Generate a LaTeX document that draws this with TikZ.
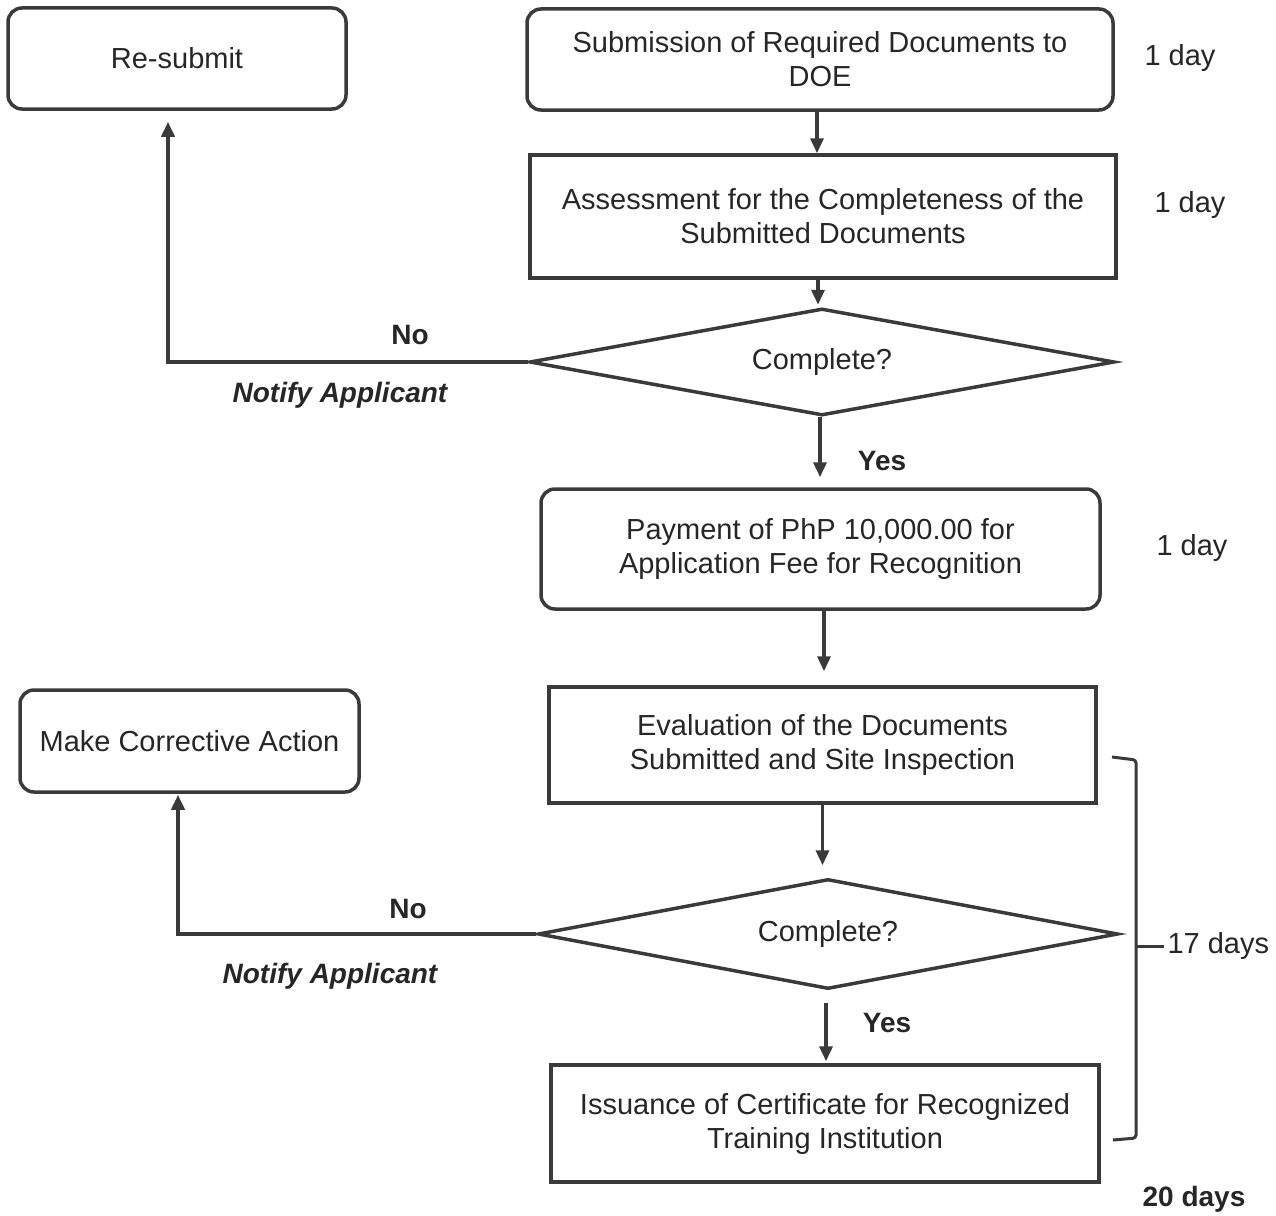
\documentclass[tikz,border=0pt]{standalone}
\usepackage{fontspec}
\setmainfont{Liberation Sans}
\usetikzlibrary{shapes.geometric,arrows.meta}
\definecolor{ink}{HTML}{3A3A3A}
\definecolor{txt}{HTML}{262626}
\begin{document}
\begin{tikzpicture}[x=1pt,y=-1pt,
 every node/.style={text=txt},
 base/.style={draw=ink, line width=3.5pt, align=center, inner sep=0pt, font=\fontsize{29}{34}\selectfont},
 rbox/.style={base, rounded corners=14pt},
 sbox/.style={base},
 dec/.style={base, shape=diamond, aspect=5.4, line width=3.5pt},
 flow/.style={draw=ink, line width=3.5pt, -{Triangle[width=13pt,length=15pt]}},
 lbl/.style={font=\fontsize{29}{34}\selectfont},
 blbl/.style={font=\fontsize{28}{34}\selectfont\bfseries},
 ilbl/.style={font=\fontsize{28}{34}\selectfont\bfseries\itshape},
]
\useasboundingbox (0,0) rectangle (1276,1215);

% nodes
\node[rbox, minimum width=338pt, minimum height=101pt] (res) at (177,58.5) {Re-submit};
\node[rbox, minimum width=586pt, minimum height=101pt] (sub) at (820,59.5) {Submission of Required Documents to\\DOE};
\node[sbox, minimum width=586pt, minimum height=123pt] (asm) at (823,216.5) {Assessment for the Completeness of the\\Submitted Documents};
\node[dec, minimum width=585pt, minimum height=107pt] (d1) at (822,362) {Complete?};
\node[rbox, minimum width=559pt, minimum height=120pt] (pay) at (820.5,549) {Payment of PhP 10,000.00 for\\Application Fee for Recognition};
\node[sbox, minimum width=547pt, minimum height=116pt] (eva) at (822.5,745) {Evaluation of the Documents\\Submitted and Site Inspection};
\node[dec, minimum width=580pt, minimum height=110pt] (d2) at (828,934) {Complete?};
\node[sbox, minimum width=548pt, minimum height=117pt] (iss) at (825,1123.5) {Issuance of Certificate for Recognized\\Training Institution};
\node[rbox, minimum width=339pt, minimum height=102pt] (cor) at (189.5,741) {Make Corrective Action};

% side labels
\node[lbl] (t1) at (1180,58) {1 day};
\node[lbl] (t2) at (1190,205) {1 day};
\node[lbl] (t3) at (1192,548) {1 day};
\node[lbl, anchor=west] (t4) at (1164,946) {17 days};
\node[blbl] (t5) at (1194,1199) {20 days};

% branch labels
\node[blbl] (no1) at (410,335) {No};
\node[ilbl] (na1) at (340,395) {Notify Applicant};
\node[blbl] (no2) at (408,909) {No};
\node[ilbl] (na2) at (330,976) {Notify Applicant};
\node[blbl] (y1) at (882,461) {Yes};
\node[blbl] (y2) at (887,1023) {Yes};

% connectors
\draw[flow] ([xshift=-3pt]sub.south) -- ([xshift=-3pt]sub.south |- asm.north);
\draw[flow, shorten >=2pt] ([xshift=-5pt]asm.south) -- ([xshift=-5pt]asm.south |- d1.north);
\draw[flow, shorten >=10pt] ([xshift=-2pt]d1.south) -- ([xshift=-2pt]d1.south |- pay.north);
\draw[flow, shorten >=14pt] ([xshift=3.5pt]pay.south) -- ([xshift=3.5pt]pay.south |- eva.north);
\draw[flow, shorten >=12pt] (eva.south) -- (eva.south |- d2.north);
\draw[flow, shorten <=12pt, shorten >=2pt] ([xshift=-2pt]d2.south) -- ([xshift=-2pt]d2.south |- iss.north);
\draw[flow, line width=4pt, shorten >=11pt] (d1.west) -| ([xshift=-9pt]res.south);
\draw[flow, line width=4pt, shorten >=1pt] (d2.west) -| ([xshift=-11.5pt]cor.south);

% bracket
\coordinate (b1) at (1112,757);
\coordinate (b2) at (1136,760);
\coordinate (b3) at (1136,1138);
\coordinate (b4) at (1113,1140);
\coordinate (bm) at (1136,946);
\draw[ink, line width=3pt, rounded corners=3pt] (b1) -- (b2) -- (b3) -- (b4);
\draw[ink, line width=3pt] (bm) -- (t4.west);
\end{tikzpicture}
\end{document}
